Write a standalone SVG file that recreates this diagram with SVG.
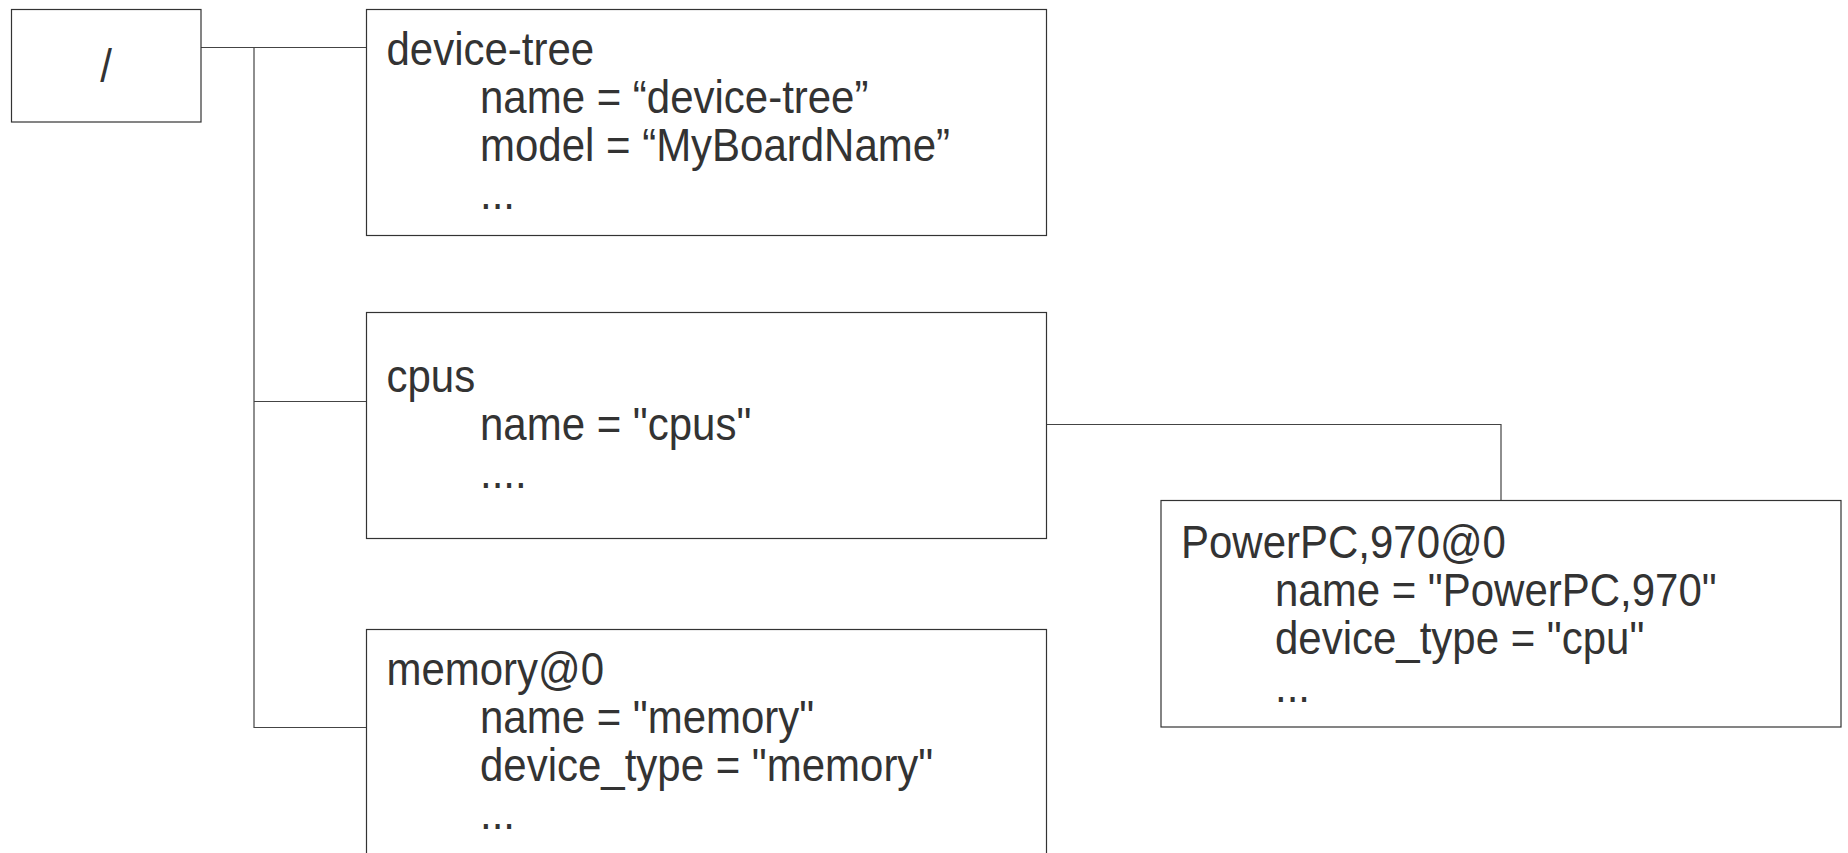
<svg xmlns="http://www.w3.org/2000/svg" width="1848" height="853" viewBox="0 0 1848 853">
<style>
.box{fill:#ffffff;stroke:#333333;stroke-width:1.2}
.conn{fill:none;stroke:#444444;stroke-width:1.2}
text{font-family:"Liberation Sans",Arial,sans-serif;font-size:42px;fill:#333333}
</style>
<rect width="1848" height="853" fill="#ffffff"/>
<g id="connectors">
<path class="conn" d="M201,47.5 H366.5"/>
<path class="conn" d="M254,47.5 V727.5 H366.5"/>
<path class="conn" d="M254,401.5 H366.5"/>
<path class="conn" d="M1046.5,424.5 H1501 V500.5"/>
</g>
<g id="root">
<rect class="box" x="11.5" y="9.5" width="189.5" height="112.5"/>
<text transform="translate(106,82) scale(1,1.12)" text-anchor="middle">/</text>
</g>
<g id="device-tree">
<rect class="box" x="366.5" y="9.5" width="680" height="226"/>
<text transform="translate(386.5,65) scale(1,1.1)">device-tree</text>
<text transform="translate(480,113) scale(1,1.1)">name = “device-tree”</text>
<text transform="translate(480,161) scale(1,1.1)">model = “MyBoardName”</text>
<text transform="translate(480,209) scale(1,1.1)">...</text>
</g>
<g id="cpus">
<rect class="box" x="366.5" y="312.5" width="680" height="226"/>
<text transform="translate(386.5,392) scale(1,1.1)">cpus</text>
<text transform="translate(480,440) scale(1,1.1)">name = "cpus"</text>
<text transform="translate(480,488) scale(1,1.1)">....</text>
</g>
<g id="memory">
<rect class="box" x="366.5" y="629.5" width="680" height="300"/>
<text transform="translate(386.5,685) scale(1,1.1)">memory@0</text>
<text transform="translate(480,733) scale(1,1.1)">name = "memory"</text>
<text transform="translate(480,781) scale(1,1.1)">device_type = "memory"</text>
<text transform="translate(480,829) scale(1,1.1)">...</text>
</g>
<g id="powerpc">
<rect class="box" x="1161" y="500.5" width="680" height="226.5"/>
<text transform="translate(1181,558) scale(1,1.1)">PowerPC,970@0</text>
<text transform="translate(1275,606) scale(1,1.1)">name = "PowerPC,970"</text>
<text transform="translate(1275,654) scale(1,1.1)">device_type = "cpu"</text>
<text transform="translate(1275,702) scale(1,1.1)">...</text>
</g>
</svg>
